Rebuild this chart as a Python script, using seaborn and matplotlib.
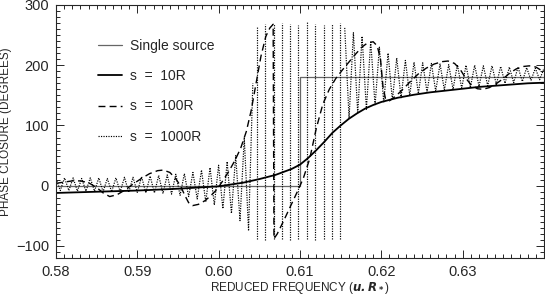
import numpy as np
import matplotlib
matplotlib.use("Agg")
import matplotlib.pyplot as plt
from matplotlib.lines import Line2D
from matplotlib.ticker import MultipleLocator
import seaborn as sns

# =========================
# DATA
# =========================
# single source: step from 0 to 180 deg at 0.61
single_x = [0.580, 0.610, 0.610, 0.640]
single_y = [0, 0, 180, 180]

# s = 10R (smooth solid curve)
s10_x = [0.580, 0.585, 0.590, 0.595, 0.600, 0.603, 0.605, 0.607, 0.609, 0.610,
         0.611, 0.612, 0.613, 0.614, 0.615, 0.616, 0.617, 0.618, 0.619, 0.620,
         0.622, 0.624, 0.626, 0.628, 0.630, 0.632, 0.634, 0.636, 0.638, 0.640]
s10_y = [-12, -10, -8, -5, -1, 5, 11, 18, 28, 35,
         46, 59, 73, 88, 100, 111, 120, 128, 134, 139,
         146, 151, 155, 158, 161, 164, 166, 168, 170, 171]

# s = 100R (dashed, wraps from 270 to -90 near 0.6067)
s100_x = [0.5800, 0.5810, 0.5820, 0.5830, 0.5840, 0.5850, 0.5858, 0.5866, 0.5875,
          0.5885, 0.5895, 0.5905, 0.5915, 0.5925, 0.5932, 0.5940, 0.5947, 0.5953,
          0.5958, 0.5963, 0.5968, 0.5975, 0.5983, 0.5990, 0.5998, 0.6005, 0.6013,
          0.6020, 0.6027, 0.6034, 0.6040, 0.6046, 0.6052, 0.6058, 0.6063, 0.6067,
          0.6068, 0.6072, 0.6080, 0.6088, 0.6096, 0.6104, 0.6112, 0.6120, 0.6128,
          0.6136, 0.6144, 0.6152, 0.6160, 0.6168, 0.6176, 0.6183, 0.6190, 0.6195,
          0.6199, 0.6202, 0.6205, 0.6210, 0.6217, 0.6225, 0.6235, 0.6245, 0.6255,
          0.6265, 0.6275, 0.6282, 0.6290, 0.6297, 0.6303, 0.6310, 0.6318, 0.6325,
          0.6333, 0.6342, 0.6350, 0.6358, 0.6366, 0.6375, 0.6382, 0.6390, 0.6396,
          0.6400]
s100_y = [4, 6, 8, 8, 5, -3, -12, -18, -15,
          -7, 3, 12, 20, 25, 26, 22, 12, 0,
          -15, -28, -33, -31, -25, -17, -6, 8, 25,
          42, 62, 90, 125, 170, 215, 248, 262, 268,
          -88, -80, -58, -35, -12, 12, 45, 95, 135,
          160, 178, 192, 205, 218, 230, 237, 239, 232,
          210, 165, 145, 141, 148, 158, 172, 185, 195,
          202, 206, 207, 203, 193, 180, 168, 161, 160,
          163, 170, 178, 187, 194, 198, 199, 197, 192,
          189]

# s = 1000R (dotted, fast oscillation): peaks / troughs left of the wrap zone
dot_left_hi = [12, 13, 13, 12, 13, 13, 12, 13, 14, 14, 15, 16,
               17, 18, 19, 20, 22, 26, 30, 34, 40, 50, 80, 170]
dot_left_lo = [-8, -8, -9, -9, -9, -10, -10, -10, -11, -11, -12, -12,
               -13, -14, -16, -18, -22, -27, -32, -38, -46, -58, -75]
# wrap zone: phase sweeps the full -90..270 range
wrap_x = [0.6047, 0.6057, 0.6068, 0.6078, 0.6088, 0.6098,
          0.6109, 0.6119, 0.6129, 0.6139, 0.6149]
wrap_hi = [264, 268, 268, 270, 268, 266, 272, 268, 266, 268, 270]
wrap_lo = [-88, -90, -88, -88, -90, -88, -88, -90, -88, -88, -88]
# right of the wrap zone, oscillating about 180
dot_right_hi = [262, 254, 248, 240, 230, 220, 212, 208, 205, 204, 203, 202,
                201, 201, 200, 200, 199, 199, 198, 197, 197, 196, 195, 195]
dot_right_lo = [112, 120, 127, 133, 138, 142, 146, 150, 153, 155, 157, 159,
                160, 162, 163, 165, 166, 168, 170, 171, 173, 175, 176]

labels = ["Single source", "s  =  10R", "s  =  100R", "s  =  1000R"]


def interleave(hi, lo):
    out = []
    for i, h in enumerate(hi):
        out.append(h)
        if i < len(lo):
            out.append(lo[i])
    return out


dot_left_y = interleave(dot_left_hi, dot_left_lo)
dot_left_x = np.linspace(0.5800, 0.6042, len(dot_left_y))
dot_right_y = interleave(dot_right_hi, dot_right_lo)
dot_right_x = np.linspace(0.6155, 0.6400, len(dot_right_y))

# =========================
# STYLE
# =========================
sns.set_style("ticks")
plt.rcParams["font.family"] = ["Liberation Sans", "DejaVu Sans"]
plt.rcParams["mathtext.fontset"] = "dejavusans"

dot_ls = (0, (1, 1.1))
dash_ls = (0, (5, 3))

fig, ax = plt.subplots(figsize=(5.45, 2.95), dpi=100)
fig.subplots_adjust(left=56 / 545, right=544 / 545, top=1 - 5 / 295, bottom=1 - 258 / 295)

# =========================
# PLOT
# =========================
sns.lineplot(x=single_x, y=single_y, ax=ax, sort=False, estimator=None,
             color="#666666", linewidth=0.9)
sns.lineplot(x=dot_left_x, y=dot_left_y, ax=ax, sort=False, estimator=None,
             color="black", linewidth=0.85, linestyle=dot_ls)
sns.lineplot(x=dot_right_x, y=dot_right_y, ax=ax, sort=False, estimator=None,
             color="black", linewidth=0.85, linestyle=dot_ls)
ax.vlines(wrap_x, wrap_lo, wrap_hi, colors="black", linewidth=0.85, linestyles=[dot_ls])
sns.lineplot(x=s100_x, y=s100_y, ax=ax, sort=False, estimator=None,
             color="black", linewidth=1.0, linestyle=dash_ls)
sns.lineplot(x=s10_x, y=s10_y, ax=ax, sort=False, estimator=None,
             color="black", linewidth=1.3)

ax.set_xlim(0.58, 0.64)
ax.set_ylim(-120, 300)
ax.set_xticks([0.58, 0.59, 0.60, 0.61, 0.62, 0.63])
ax.set_xticklabels(["0.58", "0.59", "0.60", "0.61", "0.62", "0.63"])
ax.set_yticks([-100, 0, 100, 200, 300])
ax.xaxis.set_minor_locator(MultipleLocator(0.001))
ax.yaxis.set_minor_locator(MultipleLocator(10))
ax.tick_params(which="both", direction="in", top=True, right=True, width=0.7)
ax.tick_params(which="major", length=6, labelsize=10.5)
ax.tick_params(axis="x", which="major", pad=5)
ax.tick_params(axis="y", which="major", pad=5)
ax.tick_params(which="minor", length=3)
for sp in ax.spines.values():
    sp.set_linewidth(0.8)

ax.set_xlabel(r"REDUCED FREQUENCY ($\mathbfit{u.R_*}$)", fontsize=8.5, labelpad=1)
ax.set_ylabel("PHASE CLOSURE (DEGREES)", fontsize=8.5, labelpad=3)

handles = [
    Line2D([], [], color="#666666", linewidth=0.9),
    Line2D([], [], color="black", linewidth=1.3),
    Line2D([], [], color="black", linewidth=1.0, linestyle=dash_ls),
    Line2D([], [], color="black", linewidth=0.85, linestyle=dot_ls),
]
ax.legend(handles, labels, loc="upper left", bbox_to_anchor=(0.086, 0.866),
          frameon=False, fontsize=10, handlelength=1.75, handletextpad=0.55,
          labelspacing=1.17, borderpad=0, borderaxespad=0)

fig.savefig("out.png", dpi=100)
